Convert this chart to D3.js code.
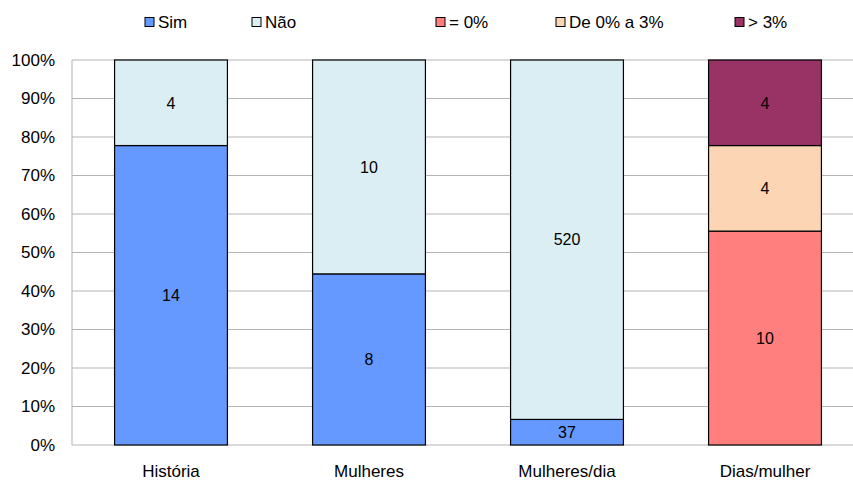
<!DOCTYPE html>
<html><head><meta charset="utf-8">
<script src="https://cdn.jsdelivr.net/npm/d3@7"></script>
<style>body{margin:0;background:#fff}svg{display:block;font-family:"Liberation Sans",Arial,sans-serif}</style>
</head><body><svg id="c" width="853" height="483"></svg>
<script>
const categories = ["História", "Mulheres", "Mulheres/dia", "Dias/mulher"];
const seriesNames = ["Sim", "Não", "= 0%", "De 0% a 3%", "> 3%"];
const seriesColors = ["#6699FF", "#DAEEF3", "#FF7F7F", "#FCD5B5", "#993366"];
const simValues = [14, 8, 37, 0];
const naoValues = [4, 10, 520, 0];
const zeroValues = [0, 0, 0, 10];
const lowValues = [0, 0, 0, 4];
const highValues = [0, 0, 0, 4];
const yTicks = [0, 0.1, 0.2, 0.3, 0.4, 0.5, 0.6, 0.7, 0.8, 0.9, 1];

const allSeries = [simValues, naoValues, zeroValues, lowValues, highValues];
const svg = d3.select("#c");
const m = {left: 72, top: 60, bottom: 445};
const x = d3.scaleBand().domain(categories).range([m.left, m.left + 792]).paddingInner(0.43).paddingOuter(0.215);
const y = d3.scaleLinear().domain([0, 1]).range([m.bottom, m.top]);
const FF = "Liberation Sans, Arial, sans-serif";

// gridlines
svg.append("g").selectAll("line").data(yTicks).join("line")
  .attr("x1", m.left).attr("x2", 853).attr("y1", d => y(d)).attr("y2", d => y(d))
  .attr("stroke", "#b3b3b3").attr("stroke-width", 1);
svg.append("line").attr("x1", m.left).attr("x2", m.left).attr("y1", m.top).attr("y2", m.bottom)
  .attr("stroke", "#b3b3b3");

const yAxis = d3.axisLeft(y).tickValues(yTicks).tickFormat(d3.format(".0%")).tickSize(0).tickPadding(17);
const ga = svg.append("g").attr("transform", `translate(${m.left},0)`).call(yAxis);
ga.select(".domain").remove();
ga.selectAll("text").attr("font-size", 17).attr("fill", "#000").attr("font-family", FF);

const xAxis = d3.axisBottom(x).tickSize(0).tickPadding(20);
const gx = svg.append("g").attr("transform", `translate(0,${m.bottom})`).call(xAxis);
gx.select(".domain").remove();
gx.selectAll("text").attr("font-size", 17).attr("fill", "#000").attr("font-family", FF);

// stacked segments
categories.forEach((c, i) => {
  const total = d3.sum(allSeries, s => s[i]);
  let acc = 0;
  allSeries.forEach((s, k) => {
    const v = s[i];
    if (!v) return;
    const y0 = acc / total, y1 = (acc + v) / total;
    acc += v;
    svg.append("rect").attr("x", x(c)).attr("width", x.bandwidth())
      .attr("y", y(y1)).attr("height", y(y0) - y(y1))
      .attr("fill", seriesColors[k]).attr("stroke", "#000").attr("stroke-width", 1.2);
    svg.append("text").attr("x", x(c) + x.bandwidth() / 2).attr("y", (y(y0) + y(y1)) / 2)
      .attr("text-anchor", "middle").attr("dy", "0.36em").attr("font-size", 16).text(v);
  });
});

// legend
const legendX = [145, 252, 436, 556, 735];
const lg = svg.append("g").selectAll("g").data(seriesNames).join("g")
  .attr("transform", (d, i) => `translate(${legendX[i]},22)`);
lg.append("rect").attr("width", 9).attr("height", 9).attr("y", -4.5)
  .attr("fill", (d, i) => seriesColors[i]).attr("stroke", "#000").attr("stroke-width", 1);
lg.append("text").attr("x", 13).attr("y", 0).attr("dy", "0.36em").attr("font-size", 17).text(d => d);
</script></body></html>
